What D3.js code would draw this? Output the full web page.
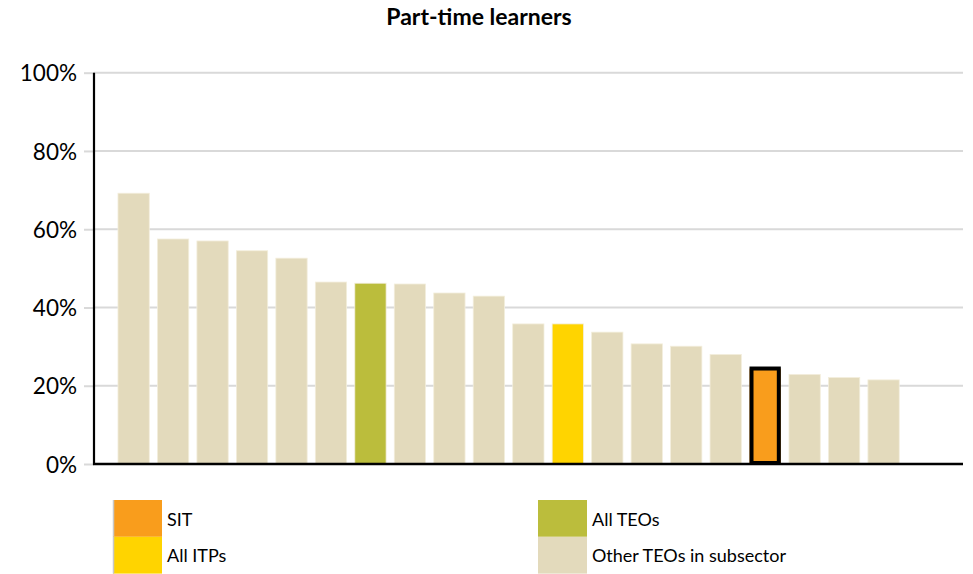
<!DOCTYPE html>
<html>
<head>
<meta charset="utf-8">
<script src="https://cdn.jsdelivr.net/npm/d3@7"></script>
<style>
  body { margin: 0; background: #fff; }
  text { font-family: Lato, "Open Sans", sans-serif; fill: #000; }
</style>
</head>
<body>
<div id="chart"></div>
<script>
// values (percent of learners studying part-time)
var values = [69.2, 57.5, 57.0, 54.5, 52.6, 46.5, 46.2, 46.0, 43.7, 42.9,
              35.8, 35.8, 33.7, 30.7, 30.1, 28.0, 24.4, 22.9, 22.1, 21.5];
// which legend group each bar belongs to
var groups = ["other", "other", "other", "other", "other", "other", "teo", "other", "other", "other",
              "other", "itp", "other", "other", "other", "other", "sit", "other", "other", "other"];
var legendKeys = ["sit", "itp", "teo", "other"];
var legendLabels = ["SIT", "All ITPs", "All TEOs", "Other TEOs in subsector"];
var yTicks = [0, 20, 40, 60, 80, 100];

var colors = {sit: "#F99D1C", itp: "#FFD400", teo: "#BBBD3C", other: "#E3DABC"};

var width = 973, height = 574;

var svg = d3.select("#chart").append("svg")
    .attr("width", width)
    .attr("height", height);

///////// scales

var x = d3.scaleBand()
    .domain(d3.range(values.length))
    .range([109.8, 907.4])
    .padding(0.207);

var y = d3.scaleLinear()
    .domain([0, 100])
    .range([464, 72.7]);

///////// title

svg.append("text")
    .attr("x", 479)
    .attr("y", 25)
    .attr("text-anchor", "middle")
    .style("font-size", "23px")
    .style("font-weight", "bold")
    .text("Part-time learners");

///////// gridlines

svg.append("g")
  .selectAll("line")
  .data(yTicks.filter(function(d) { return d > 0; }))
  .enter().append("line")
    .attr("x1", 94)
    .attr("x2", 963)
    .attr("y1", function(d) { return y(d); })
    .attr("y2", function(d) { return y(d); })
    .attr("stroke", "#D9D9D9")
    .attr("stroke-width", 2);

///////// bars

svg.append("g")
  .selectAll("rect")
  .data(values)
  .enter().append("rect")
    .attr("x", function(d, i) { return x(i); })
    .attr("y", function(d) { return y(d); })
    .attr("width", x.bandwidth())
    .attr("height", function(d) { return y(0) - y(d); })
    .attr("fill", function(d, i) { return colors[groups[i]]; })
    .attr("stroke", function(d, i) { return groups[i] == "sit" ? "none" : "#F3EEDC"; })
    .attr("stroke-width", 0.8);

// black outline on the SIT bar
var sitIndex = groups.indexOf("sit");
svg.append("rect")
    .attr("x", x(sitIndex) + 2)
    .attr("y", y(values[sitIndex]))
    .attr("width", x.bandwidth() - 4)
    .attr("height", y(0) - y(values[sitIndex]) - 1)
    .attr("fill", "none")
    .attr("stroke", "#000")
    .attr("stroke-width", 4);

///////// axes

var yAxis = d3.axisLeft(y)
    .tickValues(yTicks)
    .tickSize(10)
    .tickFormat(function(d) { return d + "%"; });

var gY = svg.append("g")
    .attr("transform", "translate(94,0)")
    .call(yAxis);

gY.select(".domain").remove();
gY.selectAll(".tick line").attr("stroke", "#D9D9D9").attr("stroke-width", 2);
gY.selectAll(".tick text")
    .attr("x", -17)
    .attr("dy", "0.36em")
    .style("font-family", "Lato, sans-serif")
    .style("font-size", "22.5px")
    .attr("fill", "#000");

svg.append("line")
    .attr("x1", 94).attr("x2", 94)
    .attr("y1", y(100)).attr("y2", y(0) + 1)
    .attr("stroke", "#000").attr("stroke-width", 2.2);

svg.append("line")
    .attr("x1", 93).attr("x2", 963)
    .attr("y1", y(0)).attr("y2", y(0))
    .attr("stroke", "#000").attr("stroke-width", 2.4);

///////// legend

var legend = svg.selectAll(".legend")
    .data(legendKeys)
  .enter().append("g")
    .attr("class", "legend")
    .attr("transform", function(d, i) {
      var col = Math.floor(i / 2), row = i % 2;
      return "translate(" + (col == 0 ? 113 : 538) + "," + (500 + row * 36.8) + ")";
    });

legend.append("rect")
    .attr("width", 49)
    .attr("height", 36.8)
    .attr("fill", function(d) { return colors[d]; });

legend.filter(function(d, i) { return i < 2; }).append("path")
    .attr("d", "M0.5,0 V36.8")
    .attr("stroke", "#C8C8C8")
    .attr("stroke-width", 1.5);

legend.append("text")
    .attr("x", 54)
    .attr("y", 25.5)
    .style("font-size", "18px")
    .text(function(d, i) { return legendLabels[i]; });
</script>
</body>
</html>
